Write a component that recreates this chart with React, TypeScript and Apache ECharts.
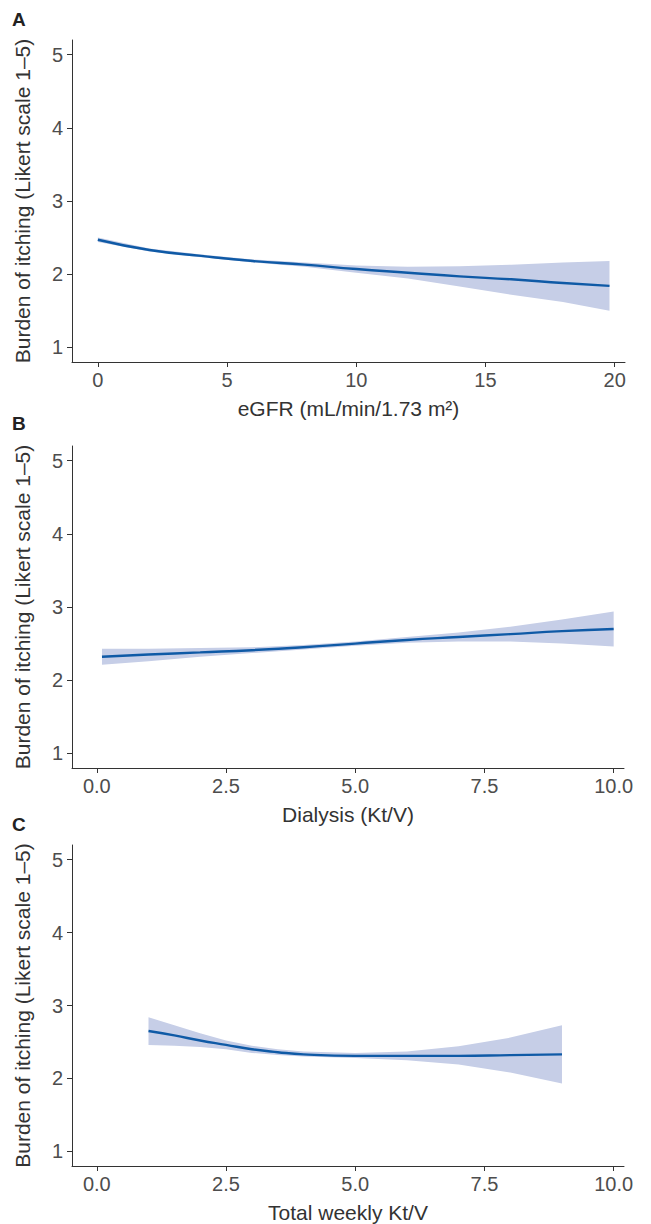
import React, { useEffect, useRef } from "react";
import * as echarts from "echarts";

// Panel A: eGFR
const xA = [0, 2, 4, 6, 8, 10, 12, 14, 16, 18, 19.8];
const fitA = [2.47, 2.33, 2.25, 2.18, 2.13, 2.07, 2.02, 1.97, 1.93, 1.88, 1.84];
const lowA = [2.44, 2.31, 2.23, 2.16, 2.1, 2.02, 1.94, 1.83, 1.72, 1.62, 1.5];
const upA = [2.5, 2.35, 2.27, 2.2, 2.16, 2.12, 2.1, 2.11, 2.13, 2.16, 2.18];

// Panel B: Dialysis Kt/V
const xB = [0.1, 1, 2, 3, 4, 5, 6, 7, 8, 9, 10];
const fitB = [2.32, 2.35, 2.38, 2.41, 2.45, 2.5, 2.55, 2.59, 2.63, 2.67, 2.7];
const lowB = [2.21, 2.26, 2.32, 2.37, 2.42, 2.47, 2.51, 2.53, 2.53, 2.5, 2.46];
const upB = [2.43, 2.43, 2.44, 2.45, 2.48, 2.53, 2.59, 2.65, 2.73, 2.83, 2.94];

// Panel C: Total weekly Kt/V
const xC = [1, 1.5, 2, 2.5, 3, 3.5, 4, 5, 6, 7, 8, 9];
const fitC = [2.65, 2.59, 2.52, 2.46, 2.4, 2.36, 2.33, 2.31, 2.31, 2.31, 2.32, 2.33];
const lowC = [2.46, 2.45, 2.43, 2.4, 2.35, 2.32, 2.3, 2.28, 2.25, 2.19, 2.08, 1.93];
const upC = [2.84, 2.73, 2.62, 2.52, 2.45, 2.4, 2.37, 2.35, 2.37, 2.44, 2.56, 2.73];

const yTicks = [1, 2, 3, 4, 5];
const xTicksA = [0, 5, 10, 15, 20];
const xTicksBC = [0, 2.5, 5, 7.5, 10];
const xTitles = ["eGFR (mL/min/1.73 m²)", "Dialysis (Kt/V)", "Total weekly Kt/V"];
const yTitle = "Burden of itching (Likert scale 1–5)";
const panelLetters = ["A", "B", "C"];

const FONT = "'Liberation Sans', Arial, sans-serif";
const LINE_COLOR = "#0f5aa6";
const BAND_COLOR = "#c6cee7";
const AXIS_COLOR = "#333333";
const LABEL_COLOR = "#4d4d4d";

const panels = [
  { x: xA, fit: fitA, low: lowA, up: upA, ticks: xTicksA, min: -1.0, max: 20.4, dec: 0 },
  { x: xB, fit: fitB, low: lowB, up: upB, ticks: xTicksBC, min: -0.48, max: 10.2, dec: 1 },
  { x: xC, fit: fitC, low: lowC, up: upC, ticks: xTicksBC, min: -0.48, max: 10.2, dec: 1 },
];

const grids = [
  { left: 72, top: 40, width: 553, height: 322 },
  { left: 72, top: 446, width: 552, height: 322 },
  { left: 72, top: 845, width: 552, height: 322 },
];

export default function App() {
  const ref = useRef<HTMLDivElement>(null);
  useEffect(() => {
    if (!ref.current) return;
    const chart = echarts.init(ref.current, undefined, { renderer: "svg" });

    const xAxes = panels.map((p, i) => ({
      type: "value",
      gridIndex: i,
      min: p.min,
      max: p.max,
      name: xTitles[i],
      nameLocation: "middle",
      nameGap: 36,
      nameTextStyle: { color: "#333333", fontSize: 21, fontFamily: FONT },
      splitLine: { show: false },
      axisLine: { show: true, onZero: false, lineStyle: { color: AXIS_COLOR, width: 1 } },
      axisTick: { show: true, length: 5, customValues: p.ticks, lineStyle: { color: AXIS_COLOR } },
      axisLabel: {
        customValues: p.ticks,
        margin: 8,
        color: LABEL_COLOR,
        fontSize: 20,
        fontFamily: FONT,
        formatter: (v: number) => v.toFixed(p.dec),
      },
    }));

    const yAxes = panels.map((p, i) => ({
      type: "value",
      gridIndex: i,
      min: 0.8,
      max: 5.2,
      name: yTitle,
      nameLocation: "middle",
      nameGap: 39,
      nameTextStyle: { color: "#333333", fontSize: 21, fontFamily: FONT },
      splitLine: { show: false },
      axisLine: { show: true, onZero: false, lineStyle: { color: AXIS_COLOR, width: 1 } },
      axisTick: { show: true, length: 5, customValues: yTicks, lineStyle: { color: AXIS_COLOR } },
      axisLabel: {
        customValues: yTicks,
        margin: 9,
        color: LABEL_COLOR,
        fontSize: 20,
        fontFamily: FONT,
      },
    }));

    const series: any[] = [];
    panels.forEach((p, i) => {
      series.push({
        type: "custom",
        xAxisIndex: i,
        yAxisIndex: i,
        data: p.x.map((x, k) => [x, p.low[k], p.up[k]]),
        encode: { x: 0, y: [1, 2] },
        silent: true,
        z: 1,
        renderItem: (params: any, api: any) => {
          if (params.dataIndex !== 0) return null;
          const upper = p.x.map((x, k) => api.coord([x, p.up[k]]));
          const lower = p.x.map((x, k) => api.coord([x, p.low[k]])).reverse();
          return {
            type: "polygon",
            shape: { points: upper.concat(lower) },
            style: { fill: BAND_COLOR, stroke: "none" },
          };
        },
      });
      series.push({
        type: "line",
        xAxisIndex: i,
        yAxisIndex: i,
        data: p.x.map((x, k) => [x, p.fit[k]]),
        symbol: "none",
        smooth: true,
        z: 3,
        lineStyle: { color: LINE_COLOR, width: 2.4 },
        silent: true,
      });
    });

    const letterY = [20.5, 425, 826];
    chart.setOption({
      animation: false,
      backgroundColor: "#ffffff",
      grid: grids,
      xAxis: xAxes,
      yAxis: yAxes,
      series,
      graphic: panelLetters.map((t, i) => ({
        type: "text",
        left: 12,
        top: letterY[i] - 11,
        style: {
          text: t,
          fontSize: 19,
          fontWeight: "bold",
          fontFamily: FONT,
          fill: "#222222",
        },
      })),
    });
    return () => chart.dispose();
  }, []);

  return (
    <div
      ref={ref}
      style={{ position: "absolute", left: 0, top: 0, width: 651, height: 1224, background: "#fff" }}
    />
  );
}
